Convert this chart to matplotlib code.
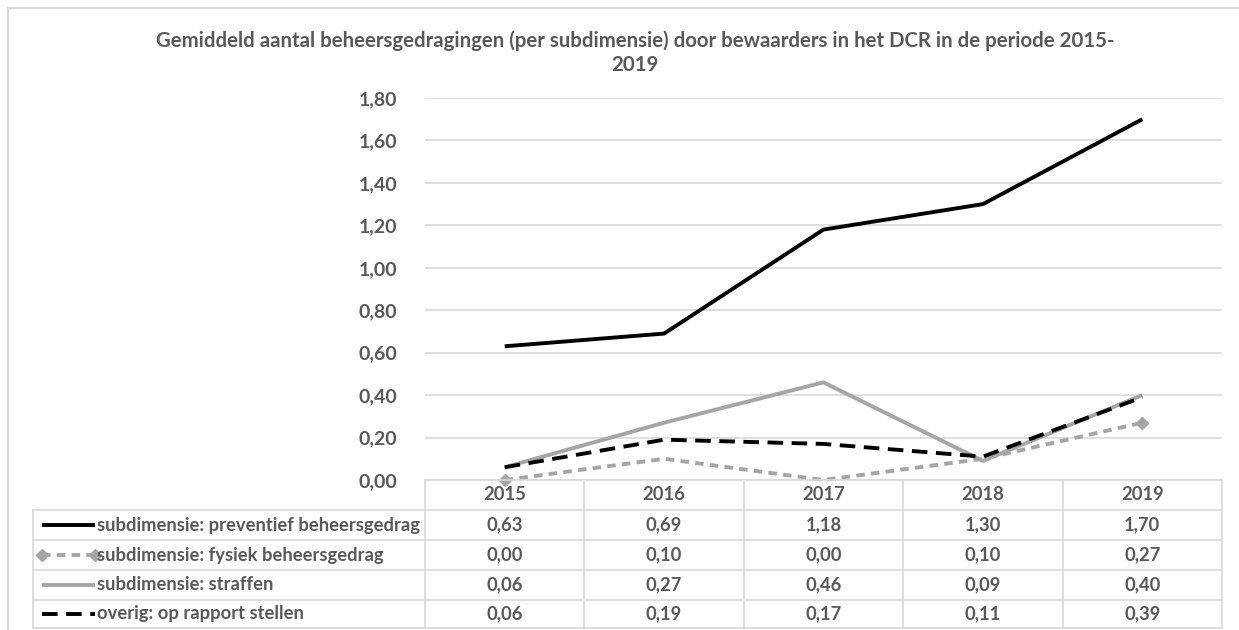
import matplotlib
matplotlib.use("Agg")
import matplotlib.pyplot as plt
from matplotlib.lines import Line2D
from matplotlib.patches import Rectangle

plt.rcParams['font.family'] = ['Lato', 'DejaVu Sans']

years = ["2015", "2016", "2017", "2018", "2019"]
series_names = [
    "subdimensie: preventief beheersgedrag",
    "subdimensie: fysiek beheersgedrag",
    "subdimensie: straffen",
    "overig: op rapport stellen",
]
preventief = [0.63, 0.69, 1.18, 1.30, 1.70]
fysiek = [0.00, 0.10, 0.00, 0.10, 0.27]
straffen = [0.06, 0.27, 0.46, 0.09, 0.40]
rapport = [0.06, 0.19, 0.17, 0.11, 0.39]
series_values = [preventief, fysiek, straffen, rapport]
yticks = [0.0, 0.2, 0.4, 0.6, 0.8, 1.0, 1.2, 1.4, 1.6, 1.8]
title = "Gemiddeld aantal beheersgedragingen (per subdimensie) door bewaarders in het DCR in de periode 2015-\n2019"

W, H = 1239, 630
fig = plt.figure(figsize=(W / 100, H / 100), dpi=100)

def fx(px):
    return px / W

def fy(py):
    return 1 - py / H

TXT = "#595959"
GRID = "#D9D9D9"
GRAY = "#A5A5A5"

styles = [
    dict(color="black", lw=2.8, ls="-"),
    dict(color=GRAY, lw=2.8, ls=(0, (2.2, 1.6)), marker="D", ms=6.5, markevery=[0, 4]),
    dict(color=GRAY, lw=2.8, ls="-"),
    dict(color="black", lw=2.8, ls=(0, (4, 2.2))),
]

# outer chart border
fig.add_artist(Rectangle((fx(8), fy(640)), fx(1250) - fx(8), fy(8) - fy(640),
                         transform=fig.transFigure, fill=False, ec=GRID, lw=1.5))

ax_left, ax_right, ax_top, ax_bot = 425, 1222, 98, 480
ax = fig.add_axes([fx(ax_left), fy(ax_bot), fx(ax_right) - fx(ax_left), fy(ax_top) - fy(ax_bot)])
x = list(range(len(years)))
for vals, st in zip(series_values, styles):
    ax.plot(x, vals, solid_capstyle="butt", dash_capstyle="butt", clip_on=False, **st)
ax.set_xlim(-0.5, len(years) - 0.5)
ax.set_ylim(0, 1.8)
ax.set_yticks(yticks)
ax.set_yticklabels([f"{v:.2f}".replace(".", ",") for v in yticks],
                   fontsize=14, color=TXT, fontweight="bold")
ax.tick_params(axis="y", length=0, pad=20)
ax.set_xticks([])
ax.grid(axis="y", color=GRID, lw=1.2)
ax.set_axisbelow(True)
for s in ax.spines.values():
    s.set_visible(False)

fig.text(fx(635), fy(53), title, ha="center", va="center", fontsize=14.7,
         color=TXT, fontweight="bold", linespacing=1.25)

# data table
col_w = (ax_right - ax_left) / len(years)
row_edges = [480, 510, 540, 570, 600, 628]
tab_left = 33

def hline(y, x0, x1):
    fig.add_artist(Line2D([fx(x0), fx(x1)], [fy(y), fy(y)], transform=fig.transFigure,
                          color=GRID, lw=1.2))

def vline(xp, y0, y1):
    fig.add_artist(Line2D([fx(xp), fx(xp)], [fy(y0), fy(y1)], transform=fig.transFigure,
                          color=GRID, lw=1.2))

hline(row_edges[0], ax_left, ax_right)
for y in row_edges[1:]:
    hline(y, tab_left, ax_right)
vline(tab_left, row_edges[1], row_edges[-1])
for i in range(len(years) + 1):
    vline(ax_left + i * col_w, row_edges[0], row_edges[-1])

for i, yr in enumerate(years):
    cx = ax_left + (i + 0.5) * col_w
    fig.text(fx(cx), fy((row_edges[0] + row_edges[1]) / 2), yr, ha="center", va="center",
             fontsize=13.2, color=TXT, fontweight="bold")

for r, (name, vals, st) in enumerate(zip(series_names, series_values, styles)):
    cy = (row_edges[r + 1] + row_edges[r + 2]) / 2
    kw = dict(st)
    kw.pop("markevery", None)
    mk = kw.pop("marker", None)
    ms = kw.pop("ms", None)
    fig.add_artist(Line2D([fx(42), fx(95)], [fy(cy), fy(cy)], transform=fig.transFigure,
                          solid_capstyle="butt", dash_capstyle="butt", **kw))
    if mk:
        fig.add_artist(Line2D([fx(42), fx(95)], [fy(cy), fy(cy)], transform=fig.transFigure,
                              ls="none", marker=mk, ms=ms, color=kw["color"]))
    fig.text(fx(97), fy(cy), name, ha="left", va="center", fontsize=13.2, color=TXT,
             fontweight="bold")
    for i, v in enumerate(vals):
        cx = ax_left + (i + 0.5) * col_w
        fig.text(fx(cx), fy(cy), f"{v:.2f}".replace(".", ","), ha="center", va="center",
                 fontsize=13.2, color=TXT, fontweight="bold")

fig.savefig("out.png", dpi=100, facecolor="white")
